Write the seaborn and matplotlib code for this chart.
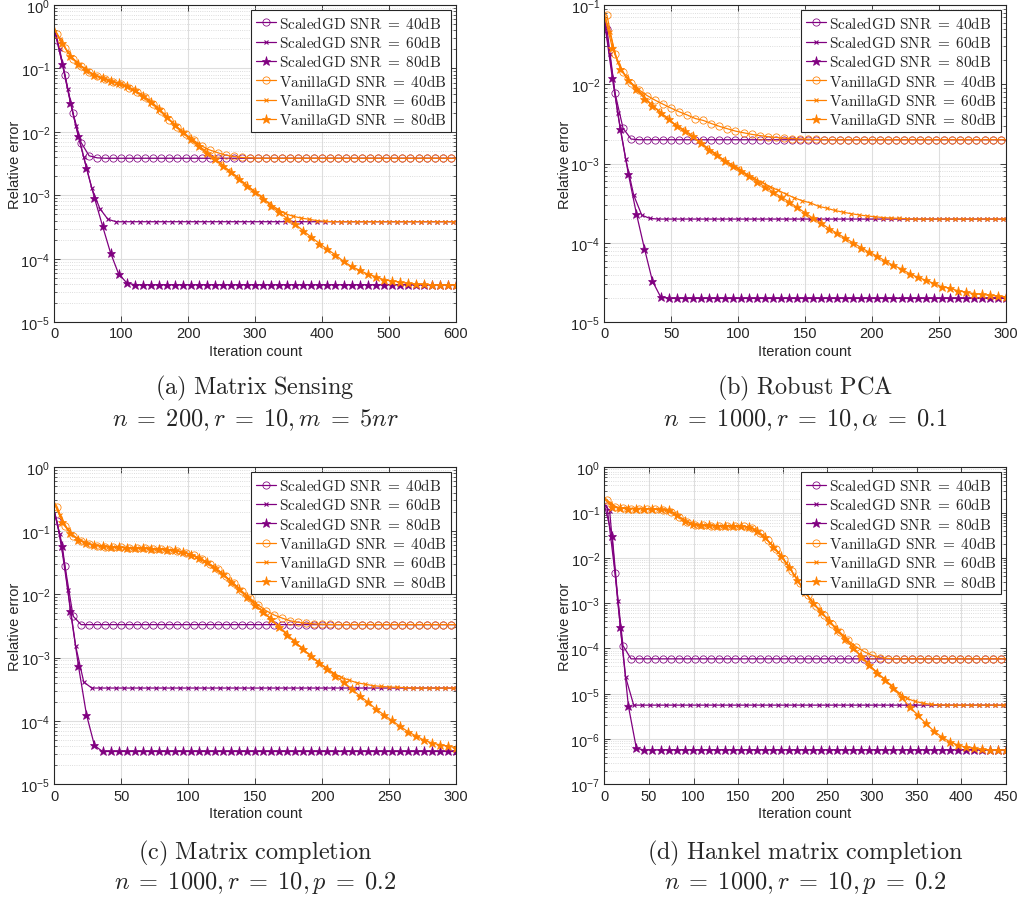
import matplotlib
matplotlib.use('Agg')
import matplotlib.pyplot as plt
from matplotlib.lines import Line2D
from matplotlib.font_manager import FontProperties
from matplotlib.ticker import LogLocator, NullFormatter
import numpy as np
import seaborn as sns

# values; first entry is iteration 0, the rest sit on the markers
# (a) matrix sensing, markers every 12 iterations
a_scaled_40 = [0.42, 0.28, 0.0785, 0.0195, 0.0068, 0.0042, 0.0039] + [0.00384] * 44
a_scaled_60 = [0.42, 0.20, 0.047, 0.0126, 0.0040, 0.00129, 0.00062, 0.00042] + [0.000384] * 43
a_scaled_80 = [0.42, 0.117, 0.029, 0.0085, 0.0027, 0.00091, 0.00033, 0.000124, 5.8e-5, 4.2e-5] + [3.9e-5] * 41
a_vanilla_40 = [0.45, 0.35, 0.21, 0.143, 0.11, 0.088, 0.075, 0.067, 0.062, 0.056, 0.05, 0.042, 0.035,
                0.028, 0.021, 0.0155, 0.0118, 0.0092, 0.0074, 0.006, 0.0052, 0.0047, 0.0043, 0.0041,
                0.00395, 0.0039] + [0.00384] * 25
a_vanilla_60 = [0.42, 0.29, 0.18, 0.127, 0.1, 0.083, 0.072, 0.066, 0.06, 0.054, 0.047, 0.04, 0.032,
                0.025, 0.019, 0.0141, 0.0107, 0.0083, 0.0065, 0.0051, 0.004, 0.0032, 0.0025, 0.002,
                0.00155, 0.00123, 0.00097, 0.00076, 0.00062, 0.00052, 0.00047, 0.00044, 0.00042,
                0.0004, 0.00039] + [0.000384] * 16
a_vanilla_80 = [0.42, 0.25, 0.158, 0.117, 0.094, 0.078, 0.0695, 0.0638, 0.058, 0.052, 0.045, 0.037,
                0.0298, 0.0228, 0.017, 0.0127, 0.0098, 0.0077, 0.006, 0.0047, 0.0037, 0.0029, 0.0023,
                0.0018, 0.0014, 0.00113, 0.00089, 0.00068, 0.00054, 0.00043, 0.00035, 0.000275,
                0.000219, 0.000174, 0.000141, 0.000115, 9.1e-5, 7.6e-5, 6.6e-5, 5.75e-5, 5.25e-5,
                4.7e-5, 4.5e-5, 4.3e-5, 4.1e-5, 4.0e-5, 3.95e-5, 3.9e-5, 3.9e-5, 3.9e-5, 3.9e-5]

# (b) robust PCA, markers every 6 iterations
b_scaled_40 = [0.065, 0.05, 0.0078, 0.0028, 0.00204] + [0.002] * 46
b_scaled_60 = [0.065, 0.024, 0.0044, 0.00115, 0.0004, 0.000224, 0.000204] + [0.0002] * 44
b_scaled_80 = [0.065, 0.012, 0.0027, 0.00074, 0.000234, 8.5e-5, 3.3e-5, 2.1e-5] + [2.0e-5] * 43
b_vanilla_40 = [0.078, 0.074, 0.024, 0.0141, 0.0105, 0.0085, 0.0072, 0.0063, 0.0056, 0.005, 0.0045,
                0.0041, 0.0037, 0.0035, 0.0032, 0.00295, 0.00275, 0.00257, 0.00245, 0.00234, 0.00226,
                0.00219, 0.00214, 0.00209, 0.00207, 0.00205, 0.00203, 0.00202] + [0.002] * 23
b_vanilla_60 = [0.078, 0.045, 0.019, 0.0126, 0.0095, 0.0076, 0.0058, 0.0047, 0.0039, 0.0032, 0.00275,
                0.00234, 0.00195, 0.00162, 0.00138, 0.00115, 0.001, 0.00087, 0.00074, 0.00065,
                0.00058, 0.00051, 0.00046, 0.00041, 0.00037, 0.00034, 0.00032, 0.00029, 0.000275,
                0.000257, 0.000245, 0.000234, 0.000226, 0.000219, 0.000214, 0.000209, 0.000206,
                0.000204, 0.000202] + [0.0002] * 12
b_vanilla_80 = [0.075, 0.029, 0.0158, 0.0112, 0.0087, 0.0066, 0.0054, 0.0044, 0.0036, 0.003, 0.0026,
                0.0022, 0.0018, 0.0015, 0.00129, 0.00107, 0.00093, 0.00081, 0.00069, 0.00059,
                0.00051, 0.00044, 0.00038, 0.00033, 0.00028, 0.00024, 0.000204, 0.000178, 0.000151,
                0.000132, 0.000115, 0.0001, 8.7e-5, 7.6e-5, 6.8e-5, 5.9e-5, 5.2e-5, 4.7e-5, 4.1e-5,
                3.7e-5, 3.4e-5, 3.1e-5, 2.8e-5, 2.7e-5, 2.5e-5, 2.4e-5, 2.3e-5, 2.24e-5, 2.19e-5,
                2.14e-5, 2.1e-5]

# (c) matrix completion, markers every 6 iterations
c_scaled_40 = [0.2, 0.14, 0.0275, 0.0045] + [0.0033] * 47
c_scaled_60 = [0.2, 0.089, 0.0117, 0.0015, 0.00041] + [0.00033] * 46
c_scaled_80 = [0.2, 0.058, 0.0055, 0.00074, 0.000126, 4.1e-5] + [3.3e-5] * 45
c_vanilla_40 = [0.28, 0.24, 0.117, 0.083, 0.069, 0.062, 0.058, 0.056, 0.0553, 0.0546, 0.054, 0.0535,
                0.0527, 0.0521, 0.0513, 0.05, 0.048, 0.0447, 0.0407, 0.0355, 0.03, 0.0245, 0.019,
                0.0148, 0.0112, 0.0087, 0.0068, 0.0055, 0.0047, 0.0042, 0.0038, 0.0036, 0.00347,
                0.00339, 0.00335, 0.00332] + [0.0033] * 15
c_vanilla_60 = [0.27, 0.18, 0.105, 0.078, 0.066, 0.06, 0.0575, 0.056, 0.0551, 0.0543, 0.0537, 0.0531,
                0.0525, 0.0519, 0.0508, 0.0495, 0.0468, 0.0437, 0.039, 0.0335, 0.0275, 0.0221, 0.0172,
                0.0132, 0.01, 0.0076, 0.0057, 0.0044, 0.0033, 0.0025, 0.0019, 0.00146, 0.00112,
                0.00089, 0.00071, 0.00058, 0.00049, 0.00044, 0.0004, 0.00038, 0.00036, 0.00035,
                0.000343, 0.000339, 0.000335] + [0.00033] * 6
c_vanilla_80 = [0.27, 0.138, 0.091, 0.072, 0.063, 0.059, 0.057, 0.0555, 0.055, 0.054, 0.0537, 0.0528,
                0.0522, 0.0516, 0.0504, 0.049, 0.0457, 0.042, 0.037, 0.0316, 0.0259, 0.0204, 0.0158,
                0.012, 0.0091, 0.0068, 0.0052, 0.004, 0.003, 0.0023, 0.00174, 0.00134, 0.00104,
                0.00081, 0.00065, 0.00051, 0.00041, 0.00032, 0.00025, 0.0002, 0.000155, 0.000126,
                0.000102, 8.3e-5, 6.8e-5, 5.8e-5, 5.0e-5, 4.5e-5, 4.2e-5, 4.0e-5, 3.8e-5]

# (d) Hankel matrix completion, markers every 9 iterations
d_scaled_40 = [0.15, 0.14, 0.0047, 0.000115] + [5.9e-5] * 47
d_scaled_60 = [0.15, 0.11, 0.00112, 2.3e-5] + [5.6e-6] * 47
d_scaled_80 = [0.15, 0.030, 0.000295, 5.4e-6, 6.2e-7] + [5.75e-7] * 46
d_vanilla_40 = [0.22, 0.19, 0.132, 0.126, 0.123, 0.123, 0.122, 0.12, 0.116, 0.105, 0.081, 0.062, 0.054,
                0.052, 0.0516, 0.0513, 0.0513, 0.051, 0.0495, 0.0457, 0.0363, 0.0245, 0.0158, 0.0093,
                0.0051, 0.00275, 0.00148, 0.00087, 0.00055, 0.00035, 0.00023, 0.000151, 0.00011,
                8.5e-5, 7.1e-5, 6.3e-5, 6.0e-5] + [5.9e-5] * 14
d_vanilla_60 = [0.21, 0.166, 0.129, 0.124, 0.123, 0.123, 0.121, 0.119, 0.115, 0.098, 0.072, 0.0575,
                0.0525, 0.052, 0.0515, 0.0513, 0.0513, 0.0505, 0.049, 0.0427, 0.0316, 0.0209, 0.0132,
                0.0076, 0.0041, 0.00214, 0.0012, 0.00074, 0.00047, 0.000295, 0.00019, 0.00012, 7.6e-5,
                4.9e-5, 3.2e-5, 2.24e-5, 1.55e-5, 1.05e-5, 7.9e-6, 6.8e-6, 6.2e-6, 5.8e-6,
                5.7e-6] + [5.6e-6] * 8
d_vanilla_80 = [0.2, 0.132, 0.126, 0.123, 0.123, 0.123, 0.12, 0.117, 0.112, 0.089, 0.066, 0.055, 0.0525,
                0.0519, 0.0513, 0.0513, 0.0513, 0.05, 0.0479, 0.0398, 0.0282, 0.0178, 0.0112, 0.0063,
                0.0033, 0.00174, 0.001, 0.00063, 0.0004, 0.00025, 0.000162, 0.000105, 6.6e-5, 4.3e-5,
                2.9e-5, 2.0e-5, 1.32e-5, 8.3e-6, 5.2e-6, 3.4e-6, 2.24e-6, 1.51e-6, 1.12e-6, 8.7e-7,
                7.4e-7, 6.6e-7, 6.2e-7, 5.9e-7, 5.75e-7, 5.75e-7, 5.75e-7]

snr_levels = [40, 60, 80]
methods = ['ScaledGD', 'VanillaGD']
captions = [r'$\mathrm{(a)\ Matrix\ Sensing}$', r'$\mathrm{(b)\ Robust\ PCA}$',
            r'$\mathrm{(c)\ Matrix\ completion}$', r'$\mathrm{(d)\ Hankel\ matrix\ completion}$']
settings = [r'$n\;=\;200, r\;=\;10, m\;=\;5nr$', r'$n\;=\;1000, r\;=\;10, \alpha\;=\;0.1$',
            r'$n\;=\;1000, r\;=\;10, p\;=\;0.2$', r'$n\;=\;1000, r\;=\;10, p\;=\;0.2$']

sns.set_style('ticks')
plt.rcParams['font.family'] = ['Liberation Sans', 'DejaVu Sans']
plt.rcParams['mathtext.fontset'] = 'custom'
plt.rcParams['mathtext.rm'] = 'Liberation Sans'
plt.rcParams['mathtext.it'] = 'Liberation Sans:italic'

colors = {'ScaledGD': '#800080', 'VanillaGD': '#ff8000'}
marker_style = {
    40: dict(marker='o', markersize=5.2, markerfacecolor='none', markeredgewidth=0.55),
    60: dict(marker='x', markersize=3.5, markeredgewidth=0.8),
    80: dict(marker='*', markersize=6.8, markeredgewidth=0.5),
}

panels = [
    dict(pos=[0.0533, 0.642, 0.3942, 0.3514], step=12, xmax=600, ylim=(1e-5, 1),
         xticks=range(0, 601, 100),
         data={'ScaledGD': [a_scaled_40, a_scaled_60, a_scaled_80],
               'VanillaGD': [a_vanilla_40, a_vanilla_60, a_vanilla_80]}),
    dict(pos=[0.5930, 0.642, 0.3942, 0.3514], step=6, xmax=300, ylim=(1e-5, 1e-1),
         xticks=range(0, 301, 50),
         data={'ScaledGD': [b_scaled_40, b_scaled_60, b_scaled_80],
               'VanillaGD': [b_vanilla_40, b_vanilla_60, b_vanilla_80]}),
    dict(pos=[0.0533, 0.1303, 0.3942, 0.3511], step=6, xmax=300, ylim=(1e-5, 1),
         xticks=range(0, 301, 50),
         data={'ScaledGD': [c_scaled_40, c_scaled_60, c_scaled_80],
               'VanillaGD': [c_vanilla_40, c_vanilla_60, c_vanilla_80]}),
    dict(pos=[0.5930, 0.1303, 0.3942, 0.3511], step=9, xmax=450, ylim=(1e-7, 1),
         xticks=range(0, 451, 50),
         data={'ScaledGD': [d_scaled_40, d_scaled_60, d_scaled_80],
               'VanillaGD': [d_vanilla_40, d_vanilla_60, d_vanilla_80]}),
]

fig = plt.figure(figsize=(10.19, 9.03), dpi=100)
legend_font = FontProperties(family='Liberation Sans', size=11, math_fontfamily='cm')

for i, p in enumerate(panels):
    ax = fig.add_axes(p['pos'])
    handles = []
    for method in methods:
        for j, snr in enumerate(snr_levels):
            y = list(p['data'][method][j])
            offset = p['step'] * (j + 1) // 3
            x = [0] + [offset + p['step'] * k for k in range(len(y) - 1)]
            n_marked = len(y)
            if x[-1] < p['xmax']:
                x.append(p['xmax'])
                y.append(y[-1])
            sns.lineplot(x=x, y=y, ax=ax, color=colors[method], linewidth=0.9,
                         estimator=None, sort=False, markevery=slice(1, n_marked),
                         markeredgecolor=colors[method], **marker_style[snr])
            handles.append(Line2D([], [], color=colors[method], linewidth=0.9,
                                  markeredgecolor=colors[method], **marker_style[snr]))
    ax.set_yscale('log')
    ax.set_xlim(0, p['xmax'])
    ax.set_ylim(*p['ylim'])
    ax.set_xticks(list(p['xticks']))
    ax.yaxis.set_major_locator(LogLocator(base=10, numticks=12))
    ax.yaxis.set_minor_locator(LogLocator(base=10, subs=np.arange(2, 10), numticks=100))
    ax.yaxis.set_minor_formatter(NullFormatter())
    ax.grid(True, which='major', color='#dedede', linewidth=0.8)
    ax.grid(True, which='minor', axis='y', color='#d2d2d2', linewidth=0.6, linestyle=':')
    ax.set_axisbelow(True)
    ax.tick_params(which='both', direction='in', top=True, right=True, colors='#262626')
    ax.tick_params(which='major', length=4, width=0.6, labelsize=10.5, pad=3)
    ax.tick_params(which='minor', length=2, width=0.5)
    for s in ax.spines.values():
        s.set_color('#262626')
        s.set_linewidth(0.8)
    ax.set_xlabel('Iteration count', fontsize=10.5, color='#262626')
    ax.set_ylabel('Relative error', fontsize=10.5, color='#262626')
    ax.xaxis.set_label_coords(0.5, -0.068)
    ax.yaxis.set_label_coords(-0.08, 0.5)

    labels = [r'$\mathrm{%s\ SNR}\;=\;%d\mathrm{dB}$' % (m, s) for m in methods for s in snr_levels]
    leg = ax.legend(handles, labels, loc='upper right', prop=legend_font, fancybox=False,
                    framealpha=1, edgecolor='#262626', borderaxespad=0.33, borderpad=0.3,
                    handlelength=1.35, handletextpad=0.15, labelspacing=0.22)
    leg.get_frame().set_linewidth(0.8)

    cx = p['pos'][0] + p['pos'][2] / 2
    top_row = i < 2
    fig.text(cx, 0.5703 if top_row else 0.0554, captions[i], ha='center', va='center',
             fontsize=17.5, math_fontfamily='cm')
    fig.text(cx, 0.5349 if top_row else 0.0221, settings[i], ha='center', va='center',
             fontsize=17.5, math_fontfamily='cm')

fig.savefig('out.png', dpi=100)
